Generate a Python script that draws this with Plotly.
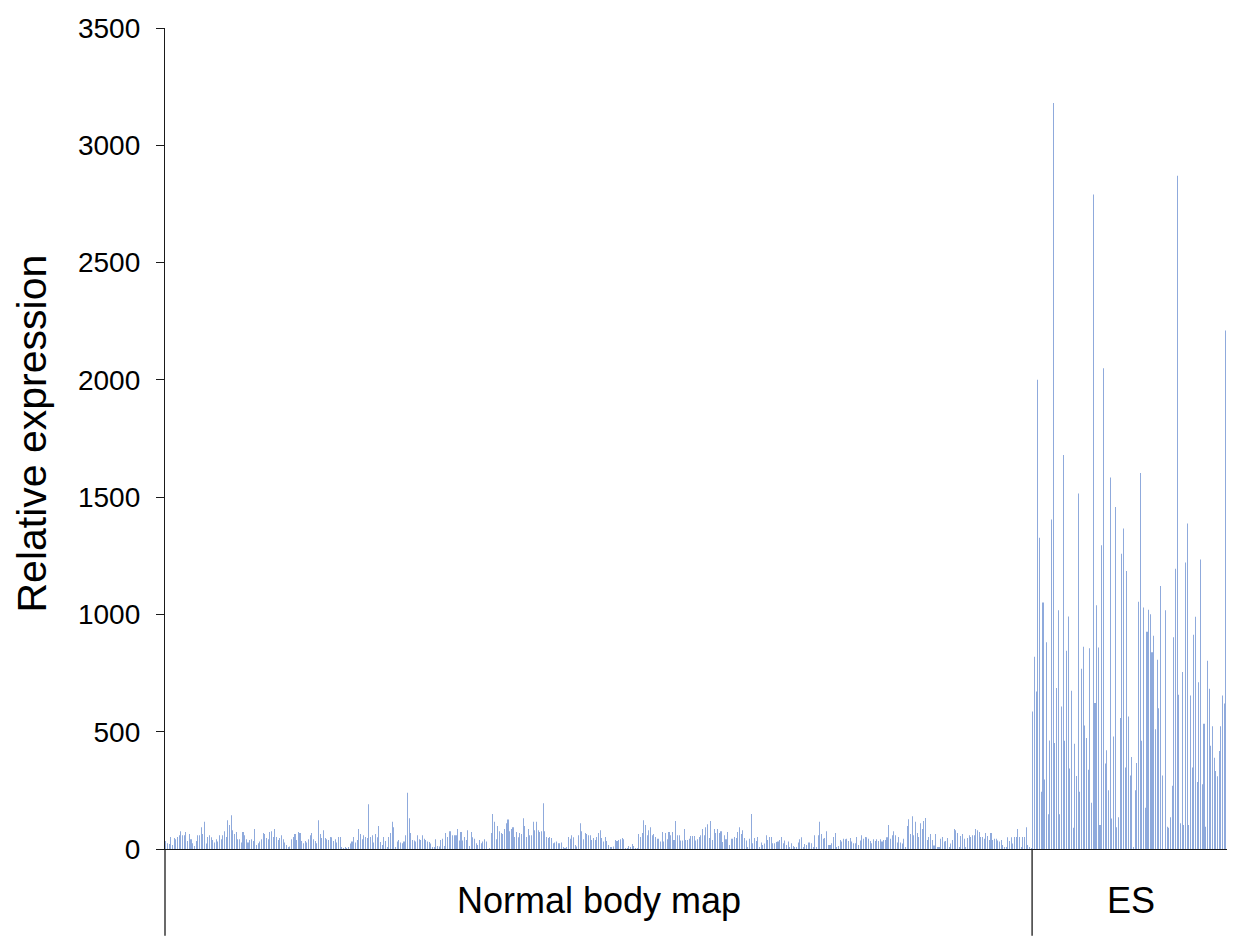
import plotly.graph_objects as go

# Relative expression values
normal_body_map = [
    34,25,21,51,17,47,42,51,59,76,59,59,72,34,64,42,25,13,34,59,59,93,64,116,23,51,59,50,38,28,
    42,32,59,42,59,76,51,123,102,144,80,64,72,42,42,28,72,59,42,28,38,42,34,85,17,25,32,42,68,64,
    47,42,72,76,51,85,51,38,47,59,42,28,17,8,11,42,51,64,38,72,68,34,25,34,28,42,59,68,42,34,
    25,123,64,47,80,47,42,38,51,50,34,42,28,51,51,8,4,8,4,8,23,32,51,28,38,85,64,42,59,51,
    47,191,51,59,28,64,50,
    98,30,17,51,34,8,51,68,116,93,8,32,38,28,25,32,59,240,131,68,38,36,32,59,42,38,59,44,38,32,
    30,23,8,8,42,13,11,38,44,13,68,51,76,76,59,59,59,85,36,72,36,51,38,80,13,72,50,44,25,17,
    38,25,32,42,32,0,4,68,149,116,42,98,76,68,64,85,110,126,76,85,93,51,72,50,68,64,131,98,51,85,
    59,59,116,80,116,80,72,76,195,76,51,47,51,47,25,28,32,25,25,28,6,4,8,51,44,59,50,17,11,59,
    110,76,42,68,64,59,
    59,38,47,38,51,68,80,47,32,51,34,17,6,6,11,38,34,38,42,47,42,4,4,13,8,21,13,4,4,64,
    51,68,123,102,59,80,93,59,64,51,44,44,32,72,32,68,42,72,59,72,38,119,59,59,36,36,85,38,38,44,
    55,55,55,36,42,51,59,85,59,93,106,47,119,38,85,68,85,68,76,30,59,42,72,17,44,44,51,47,72,93,
    64,80,47,36,8,44,149,25,47,34,51,8,28,17,23,59,38,51,51,25,25,30,32,38,51,25,36,17,32,8,
    25,13,8,8,28,42,
    50,8,21,17,28,28,25,8,59,8,59,116,64,44,47,76,17,17,25,51,68,8,13,38,32,44,42,44,34,47,
    32,25,25,51,17,36,59,44,51,50,44,34,25,42,34,42,34,42,32,38,38,50,102,44,59,76,59,28,51,28,
    23,44,8,98,127,64,140,59,116,68,51,110,85,119,132,38,51,64,38,15,64,8,8,44,51,32,34,47,8,23,
    38,85,80,68,8,55,64,44,8,47,59,51,59,59,85,80,72,51,51,44,68,55,38,68,38,44,44,36,32,38,
    17,8,8,50,34,50,23,51,51,85,51,8,51,51,93,17,8,4,
]

es = [
    586,820,671,2000,1327,244,1051,296,881,148,463,1405,3180,452,686,1018,148,607,1680,462,
    845,991,343,675,91,449,311,1515,244,768,
    862,527,473,338,856,197,2790,622,1039,859,102,1295,2050,364,421,250,1584,130,480,1458,
    93,135,558,1259,1366,347,1185,565,313,
    392,5,250,367,1054,1603,462,1030,176,926,1020,1001,839,909,510,807,600,1121,313,0,
    1018,95,91,135,270,903,1195,2870,658,
    110,755,102,1221,1388,102,654,347,913,990,286,711,1234,276,534,95,803,683,440,523,
    389,333,310,418,523,654,620,2210,1069,297,
]

group_labels = ["Normal body map", "ES"]
y_ticks = [0, 500, 1000, 1500, 2000, 2500, 3000, 3500]

values = normal_body_map + es
n_normal = len(normal_body_map)
n_total = len(values)
x_idx = list(range(n_total))

FONT = "Liberation Sans, Arial, sans-serif"
AXIS = "#1a1a1a"

fig = go.Figure(go.Bar(
    x=x_idx, y=values,
    marker=dict(color="#8FAADC", line=dict(width=0)),
    hoverinfo="y",
))

# page has an 8px body margin, so the figure is sized to fit inside it
W, H = 1227, 928
ml, mr, mt, mb = 157, 5, 17, 87
plot_h = H - mt - mb
below = -mb / plot_h

fig.update_layout(
    width=W, height=H,
    margin=dict(l=ml, r=mr, t=mt, b=mb, pad=0),
    paper_bgcolor="white", plot_bgcolor="white",
    bargap=0.97,
    showlegend=False,
    font=dict(family=FONT, color="black"),
    xaxis=dict(
        range=[-0.5, n_total - 0.5],
        showticklabels=False, ticks="", showgrid=False, zeroline=False,
        showline=True, linecolor=AXIS, linewidth=1.3,
    ),
    yaxis=dict(
        range=[0, 3500], tickvals=y_ticks,
        ticks="outside", ticklen=8, tickwidth=1.3, tickcolor=AXIS,
        showline=True, linecolor=AXIS, linewidth=1.3,
        showgrid=False, zeroline=False,
        tickfont=dict(size=28, family=FONT, color="black"),
        ticklabelstandoff=10,
    ),
)

line_style = dict(color=AXIS, width=1.3)
shapes = [
    dict(type="line", xref="paper", yref="paper", x0=0, x1=0, y0=0, y1=below, line=line_style),
    dict(type="line", xref="x", yref="paper", x0=n_normal - 0.5, x1=n_normal - 0.5, y0=0, y1=below, line=line_style),
    dict(type="line", xref="x", yref="paper", x0=n_total - 0.5, x1=n_total - 0.5, y0=0, y1=below, line=line_style),
]
fig.update_layout(shapes=shapes)

label_y = -52 / plot_h
fig.add_annotation(text=group_labels[0], xref="x", yref="paper",
                   x=(n_normal - 1) / 2, y=label_y, showarrow=False,
                   font=dict(size=36, family=FONT, color="black"), yanchor="middle")
fig.add_annotation(text=group_labels[1], xref="x", yref="paper",
                   x=n_normal + (len(es) - 1) / 2, y=label_y, showarrow=False,
                   font=dict(size=36, family=FONT, color="black"), yanchor="middle")
fig.add_annotation(text="Relative expression", xref="paper", yref="paper",
                   x=0, y=0.5, xshift=-134, yshift=5, showarrow=False, textangle=-90,
                   font=dict(size=41, family=FONT, color="black"),
                   xanchor="center", yanchor="middle")

fig.write_html("out.html")
